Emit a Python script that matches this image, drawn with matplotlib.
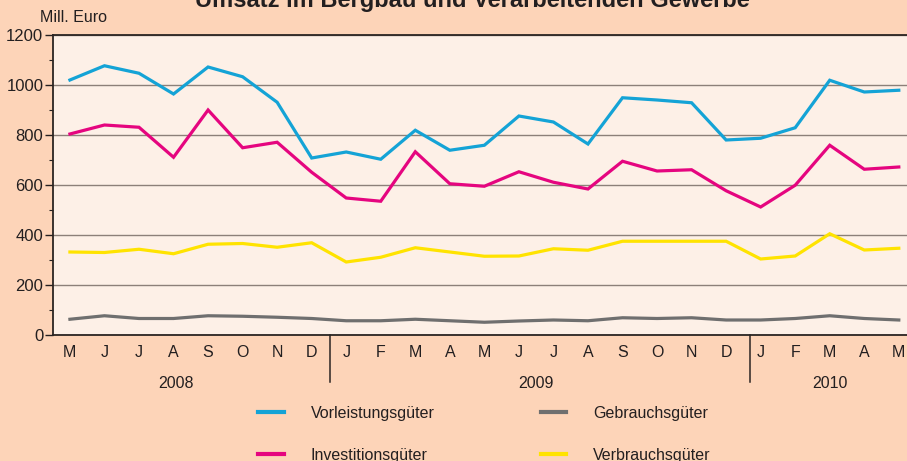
import matplotlib
matplotlib.use("Agg")
import matplotlib.pyplot as plt
import numpy as np
from matplotlib.ticker import MultipleLocator

plt.rcParams['font.family'] = ['Liberation Sans', 'DejaVu Sans']

months = ["M", "J", "J", "A", "S", "O", "N", "D",
          "J", "F", "M", "A", "M", "J", "J", "A", "S", "O", "N", "D",
          "J", "F", "M", "A", "M"]
years = ["2008", "2009", "2010"]

vorleistung = [1020, 1077, 1047, 964, 1072, 1033, 931, 708,
               732, 703, 819, 739, 759, 876, 852, 764, 949, 940, 929, 780,
               787, 829, 1019, 972, 979]
investition = [804, 840, 831, 711, 900, 749, 771, 651,
               548, 535, 733, 605, 595, 653, 611, 584, 695, 656, 661, 577,
               512, 599, 759, 663, 672]
verbrauch = [332, 330, 343, 325, 363, 366, 351, 369,
             292, 311, 349, 332, 315, 316, 345, 339, 375, 375, 375, 375,
             304, 316, 405, 340, 347]
gebrauch = [63, 77, 66, 66, 77, 75, 71, 66,
            57, 57, 63, 57, 51, 56, 60, 57, 69, 66, 69, 60,
            60, 66, 77, 66, 60]

c_blue = "#14a3d6"
c_pink = "#e5057f"
c_yellow = "#ffe300"
c_gray = "#6f6f6f"
fig_bg = "#fdd4b8"
ax_bg = "#fdf0e7"
txt = "#231f20"

fig = plt.figure(figsize=(9.07, 4.61), dpi=100, facecolor=fig_bg)
W, H = 907, 461
ax = fig.add_axes([53 / W, 1 - 335 / H, 1 - 53 / W + 0.01, 300 / H])
ax.set_facecolor(ax_bg)

x = np.arange(len(months))
lw = 2.3
l1, = ax.plot(x, vorleistung, color=c_blue, lw=lw, label="Vorleistungsgüter", solid_joinstyle='miter')
l2, = ax.plot(x, investition, color=c_pink, lw=lw, label="Investitionsgüter", solid_joinstyle='miter')
l3, = ax.plot(x, gebrauch, color=c_gray, lw=lw, label="Gebrauchsgüter", solid_joinstyle='miter')
l4, = ax.plot(x, verbrauch, color=c_yellow, lw=lw, label="Verbrauchsgüter", solid_joinstyle='miter')

ax.set_xlim(-0.49, 24.5)
ax.set_ylim(0, 1200)
ax.yaxis.set_major_locator(MultipleLocator(200))
ax.yaxis.set_minor_locator(MultipleLocator(100))
ax.grid(axis='y', color="#8c8079", lw=1.0)
ax.set_axisbelow(True)
for l in ax.get_lines():
    l.set_zorder(3)

ax.set_xticks(x)
ax.set_xticklabels(months)
ax.tick_params(axis='x', length=0, pad=7, labelsize=11.5, colors=txt)
ax.tick_params(axis='y', which='major', length=6, width=1, pad=1, labelsize=12, colors=txt)
ax.tick_params(axis='y', which='minor', length=3, width=0.8, colors=txt)

for s in ["left", "bottom", "top"]:
    ax.spines[s].set_color("#2b2522")
    ax.spines[s].set_linewidth(1.3)
ax.spines["right"].set_visible(False)

# year separators and labels
tr = matplotlib.transforms.blended_transform_factory(ax.transData, ax.transAxes)
for xs in [7.53, 19.68]:
    ax.plot([xs, xs], [0, -0.157], transform=tr, color="#2b2522", lw=1.1, clip_on=False)
for xl, yl in zip([3.07, 13.5, 22.0], years):
    ax.text(xl, -0.16, yl, transform=tr, ha='center', va='center', fontsize=11.5, color=txt)

fig.text(40 / W, 1 - 18 / H, "Mill. Euro", ha='left', va='center', fontsize=11.5, color=txt)
fig.text(472 / W, 1 - 6.5 / H, "Umsatz im Bergbau und Verarbeitenden Gewerbe",
         ha='center', va='baseline', fontsize=17, fontweight='bold', color=txt)

leg = fig.legend(handles=[l1, l2, l3, l4], ncol=2, loc='upper left',
                 bbox_to_anchor=(258 / W, 1 - 406 / H), frameon=False,
                 borderpad=0, borderaxespad=0, handlelength=1.6, handletextpad=1.7,
                 columnspacing=6.64, labelspacing=1.68, fontsize=11.5)
for t in leg.get_texts():
    t.set_color(txt)
for h in leg.legend_handles:
    h.set_linewidth(3)

fig.savefig("out.png", dpi=100, facecolor=fig_bg)
